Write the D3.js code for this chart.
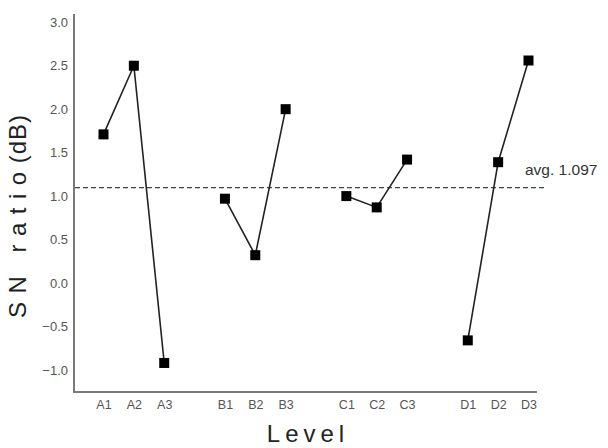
<!DOCTYPE html>
<html>
<head>
<meta charset="utf-8">
<script src="https://cdn.jsdelivr.net/npm/d3@7"></script>
<style>
  html, body { margin: 0; padding: 0; background: #fff; }
  svg { display: block; }
  text { font-family: "Liberation Sans", Arial, sans-serif; }
</style>
</head>
<body>
<svg id="chart" width="608" height="448"></svg>
<script>
// ---- data ----
const groups = ["A", "B", "C", "D"];
const levels = ["A1", "A2", "A3", "B1", "B2", "B3", "C1", "C2", "C3", "D1", "D2", "D3"];
const snValues = [1.71, 2.50, -0.92, 0.97, 0.32, 2.00, 1.00, 0.87, 1.42, -0.66, 1.39, 2.56];
const avgValue = 1.097;
const avgLabel = "avg. 1.097";
const yTicks = [-1.0, -0.5, 0.0, 0.5, 1.0, 1.5, 2.0, 2.5, 3.0];
const xTitle = "Level";
const yTitle = "SN ratio";
const yUnit = "(dB)";

// ---- layout ----
const svg = d3.select("#chart");
const axisLeftX = 74, axisRightX = 537, axisTopY = 14, axisBottomY = 392;

// x slots: 3 levels per group plus a spacer between groups
const slots = [];
groups.forEach((g, gi) => {
  levels.filter(l => l[0] === g).forEach(l => slots.push(l));
  if (gi < groups.length - 1) slots.push("_gap" + gi);
});
const x = d3.scalePoint().domain(slots).range([103.5, 528.5]).padding(0);
const y = d3.scaleLinear().domain([-1.254, 3.095]).range([axisBottomY, axisTopY]);

// axes lines
svg.append("line")
  .attr("x1", axisLeftX).attr("x2", axisLeftX)
  .attr("y1", axisTopY).attr("y2", axisBottomY)
  .attr("stroke", "#7a7a7a").attr("stroke-width", 2);
svg.append("line")
  .attr("x1", axisLeftX - 1).attr("x2", axisRightX)
  .attr("y1", axisBottomY).attr("y2", axisBottomY)
  .attr("stroke", "#7a7a7a").attr("stroke-width", 2);

// y axis ticks (labels only)
const yAxis = d3.axisLeft(y).tickValues(yTicks).tickSize(0).tickPadding(6)
  .tickFormat(d3.format(".1f"));
const gy = svg.append("g").attr("transform", `translate(${axisLeftX},0)`).call(yAxis);
gy.select(".domain").remove();
gy.selectAll("text")
  .attr("font-family", "Liberation Sans, Arial, sans-serif")
  .attr("font-size", 13).attr("fill", "#555");

// x axis labels
const xAxis = d3.axisBottom(x).tickValues(levels).tickSize(0).tickPadding(0);
const gx = svg.append("g").attr("transform", `translate(0,${axisBottomY})`).call(xAxis);
gx.select(".domain").remove();
gx.selectAll("text")
  .attr("font-family", "Liberation Sans, Arial, sans-serif")
  .attr("font-size", 12.5).attr("fill", "#555")
  .attr("dy", "1.35em");

// average dashed line
svg.append("line")
  .attr("x1", axisLeftX + 1).attr("x2", 545)
  .attr("y1", y(avgValue)).attr("y2", y(avgValue))
  .attr("stroke", "#444").attr("stroke-width", 1.2)
  .attr("stroke-dasharray", "5,3");
svg.append("text")
  .attr("x", 525).attr("y", y(avgValue) - 13)
  .attr("font-size", 15.5).attr("fill", "#333")
  .text(avgLabel);

// data lines per group
const pts = levels.map((l, i) => ({ level: l, group: l[0], v: snValues[i] }));
const line = d3.line().x(d => x(d.level)).y(d => y(d.v));
groups.forEach(g => {
  svg.append("path")
    .datum(pts.filter(p => p.group === g))
    .attr("d", line)
    .attr("fill", "none")
    .attr("stroke", "#222")
    .attr("stroke-width", 1.6);
});

// markers
const ms = 10;
svg.selectAll("rect.m").data(pts).enter().append("rect")
  .attr("class", "m")
  .attr("x", d => x(d.level) - ms / 2)
  .attr("y", d => y(d.v) - ms / 2)
  .attr("width", ms).attr("height", ms)
  .attr("fill", "#000");

// axis titles
svg.append("text")
  .attr("x", 308).attr("y", 442)
  .attr("text-anchor", "middle")
  .attr("font-size", 24).attr("fill", "#222")
  .attr("letter-spacing", 5)
  .text(xTitle);

const yt = svg.append("text")
  .attr("transform", "translate(26,216) rotate(-90)")
  .attr("text-anchor", "middle")
  .attr("font-size", 24).attr("fill", "#222");
yt.append("tspan").attr("letter-spacing", 8.5).text(yTitle);
yt.append("tspan").attr("letter-spacing", 1).text(yUnit);
</script>
</body>
</html>
